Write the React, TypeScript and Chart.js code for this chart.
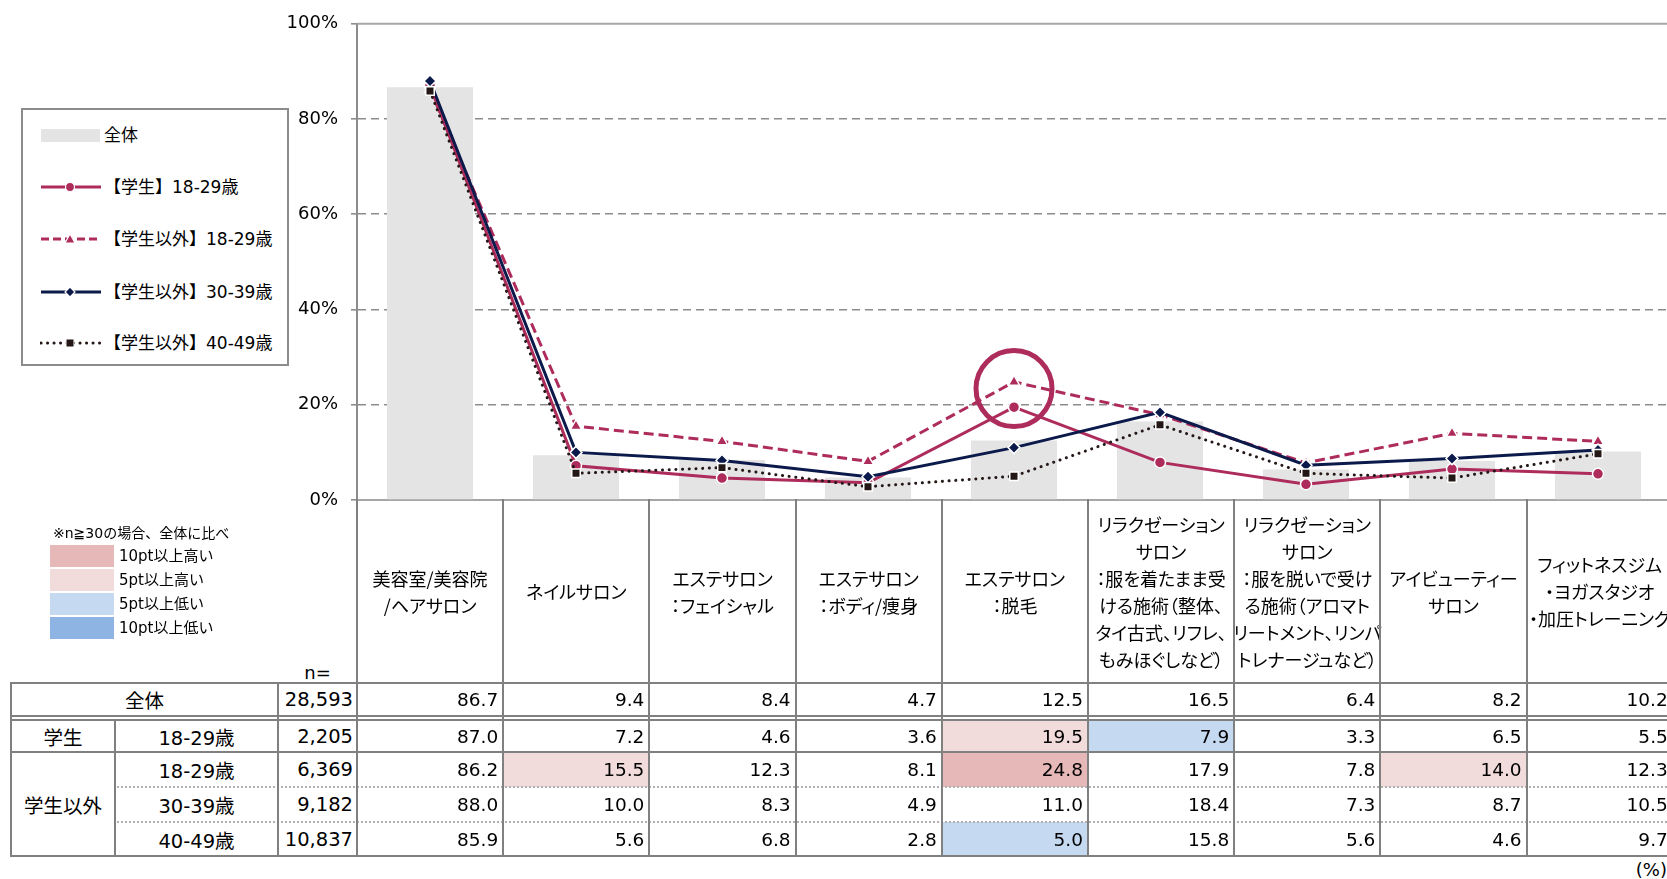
import React, { useEffect, useRef } from "react";
import { Chart, registerables } from "chart.js";

Chart.register(...registerables);

// ---------------- data ----------------
const categories: string[][] = [
  ["美容室/美容院", "/ヘアサロン"],
  ["ネイルサロン"],
  ["エステサロン", "：フェイシャル"],
  ["エステサロン", "：ボディ/痩身"],
  ["エステサロン", "：脱毛"],
  ["リラクゼーション", "サロン", "：服を着たまま受", "ける施術（整体、", "タイ古式、リフレ、", "もみほぐしなど）"],
  ["リラクゼーション", "サロン", "：服を脱いで受け", "る施術（アロマト", "リートメント、リンパ", "トレナージュなど）"],
  ["アイビューティー", "サロン"],
  ["フィットネスジム", "・ヨガスタジオ", "・加圧トレーニング"],
];
const seriesLabels = ["全体", "【学生】18-29歳", "【学生以外】18-29歳", "【学生以外】30-39歳", "【学生以外】40-49歳"];
const totalValues = [86.7, 9.4, 8.4, 4.7, 12.5, 16.5, 6.4, 8.2, 10.2];
const student1829 = [87.0, 7.2, 4.6, 3.6, 19.5, 7.9, 3.3, 6.5, 5.5];
const nonStudent1829 = [86.2, 15.5, 12.3, 8.1, 24.8, 17.9, 7.8, 14.0, 12.3];
const nonStudent3039 = [88.0, 10.0, 8.3, 4.9, 11.0, 18.4, 7.3, 8.7, 10.5];
const nonStudent4049 = [85.9, 5.6, 6.8, 2.8, 5.0, 15.8, 5.6, 4.6, 9.7];
const sampleSizes = ["28,593", "2,205", "6,369", "9,182", "10,837"];
const yTickStep = 20;
const yMax = 100;
const rowGroupLabels = ["全体", "学生", "学生以外"];
const rowAgeLabels = ["18-29歳", "18-29歳", "30-39歳", "40-49歳"];
const noteText = "※n≧30の場合、全体に比べ";
const highlightLegendLabels = ["10pt以上高い", "5pt以上高い", "5pt以上低い", "10pt以上低い"];
const circledCategoryIndex = 4;
const circledValue = 23.4;

// ---------------- styles / layout ----------------
const CRIMSON = "#AE2C5B";
const NAVY = "#0B1A4A";
const DARK = "#231815";
const BAR_GRAY = "#e4e4e4";
const HL_COLORS = ["#e6b8b7", "#f2dcdb", "#c5d9f1", "#8db4e2"];
const LINE_GRAY = "#808080";

const PLOT_LEFT = 357;
const PLOT_TOP = 20;
const PLOT_BOTTOM = 500;
const COL_W = 146.2;
const PLOT_RIGHT = PLOT_LEFT + COL_W * categories.length;
const CANVAS_W = Math.ceil(PLOT_RIGHT) + 6;
const CANVAS_H = 524;

const FONT = '"DejaVu Sans", "Noto Sans CJK JP", sans-serif';
const FONT_JP = '"Noto Sans CJK JP", sans-serif';

const HEADER_BOTTOM = 683;
const ROWS = [
  { top: 683, bottom: 716 },
  { top: 720, bottom: 752 },
  { top: 752, bottom: 787 },
  { top: 787, bottom: 822 },
  { top: 822, bottom: 856 },
];
const X_LEFT = 11;
const X_GROUP = 115;
const X_N = 278;

function hlLevel(v: number, base: number): number {
  const d = v - base;
  if (d >= 10) return 0;
  if (d >= 5) return 1;
  if (d <= -10) return 3;
  if (d <= -5) return 2;
  return -1;
}

function ChartCanvas() {
  const ref = useRef<HTMLCanvasElement>(null);
  useEffect(() => {
    const canvas = ref.current;
    if (!canvas) return;
    const frameLines = {
      id: "frameLines",
      beforeDatasetsDraw(chart: any) {
        const { ctx, chartArea, scales } = chart;
        const yTop = scales.y.getPixelForValue(yMax);
        const yBase = scales.y.getPixelForValue(0);
        ctx.save();
        ctx.strokeStyle = "#a6a6a6";
        ctx.lineWidth = 2;
        ctx.beginPath();
        ctx.moveTo(chartArea.left, yTop);
        ctx.lineTo(chartArea.right, yTop);
        ctx.moveTo(chartArea.left, yBase);
        ctx.lineTo(chartArea.right, yBase);
        ctx.stroke();
        ctx.restore();
      },
    };
    const circle = {
      id: "circleMark",
      afterDatasetsDraw(chart: any) {
        const { ctx, scales } = chart;
        const x = scales.x.getPixelForValue(circledCategoryIndex);
        const y = scales.y.getPixelForValue(circledValue);
        ctx.save();
        ctx.strokeStyle = CRIMSON;
        ctx.lineWidth = 5;
        ctx.beginPath();
        ctx.arc(x, y, 38, 0, Math.PI * 2);
        ctx.stroke();
        ctx.restore();
      },
    };
    const lineCommon = {
      type: "line" as const,
      borderWidth: 3,
      pointBorderColor: "#ffffff",
      pointBorderWidth: 1.5,
      fill: false,
      tension: 0,
    };
    const chart = new Chart(canvas, {
      data: {
        labels: categories.map((c) => c.join("")),
        datasets: [
          {
            type: "bar",
            label: seriesLabels[0],
            data: totalValues,
            backgroundColor: BAR_GRAY,
            barPercentage: 0.59,
            categoryPercentage: 1,
            order: 10,
          },
          {
            ...lineCommon,
            label: seriesLabels[1],
            data: student1829,
            borderColor: CRIMSON,
            pointBackgroundColor: CRIMSON,
            pointStyle: "circle",
            pointRadius: 5.5,
            order: 4,
          },
          {
            ...lineCommon,
            label: seriesLabels[2],
            data: nonStudent1829,
            borderColor: CRIMSON,
            borderDash: [10, 5],
            pointBackgroundColor: CRIMSON,
            pointStyle: "triangle",
            pointRadius: 6.5,
            order: 3,
          },
          {
            ...lineCommon,
            label: seriesLabels[3],
            data: nonStudent3039,
            borderColor: NAVY,
            pointBackgroundColor: NAVY,
            pointStyle: "rectRot",
            pointRadius: 6,
            order: 2,
          },
          {
            ...lineCommon,
            label: seriesLabels[4],
            data: nonStudent4049,
            borderColor: DARK,
            borderDash: [0.1, 6.6],
            borderCapStyle: "round",
            pointBackgroundColor: DARK,
            pointStyle: "rect",
            pointRadius: 6,
            order: 1,
          },
        ] as any,
      },
      options: {
        responsive: false,
        animation: false,
        layout: {
          padding: { left: 0, top: PLOT_TOP, right: CANVAS_W - PLOT_RIGHT, bottom: CANVAS_H - PLOT_BOTTOM },
        },
        plugins: { legend: { display: false }, tooltip: { enabled: false } },
        scales: {
          x: {
            display: false,
            offset: true,
            grid: { display: false },
          },
          y: {
            min: 0,
            max: yMax,
            ticks: {
              stepSize: yTickStep,
              callback: (v: any) => v + "%",
              color: "#000",
              padding: 13,
              font: { family: FONT, size: 18 },
            },
            grid: {
              color: (ctx: any) =>
                ctx.tick && (ctx.tick.value === 0 || ctx.tick.value === yMax) ? "rgba(0,0,0,0)" : "#8c8c8c",
              lineWidth: 1.6,
              tickColor: "#8c8c8c",
              tickLength: 6,
              tickWidth: 1.6,
            },
            border: { display: true, color: "#8c8c8c", width: 2, dash: [8, 5] },
            afterFit: (s: any) => {
              s.width = PLOT_LEFT;
            },
          },
        },
      } as any,
      plugins: [frameLines, circle],
    });
    return () => chart.destroy();
  }, []);
  return (
    <canvas
      ref={ref}
      width={CANVAS_W}
      height={CANVAS_H}
      style={{ position: "absolute", left: 0, top: 0, width: CANVAS_W, height: CANVAS_H }}
    />
  );
}

function LegendSample({ kind }: { kind: number }) {
  const cy = 8;
  const stroke = kind === 3 ? NAVY : kind === 4 ? DARK : CRIMSON;
  const dash = kind === 2 ? "8 4" : kind === 4 ? "0.1 6.4" : undefined;
  let marker: React.ReactNode = null;
  if (kind === 1) marker = <circle cx={30} cy={cy} r={4.5} fill={CRIMSON} stroke="#fff" strokeWidth={1.2} />;
  if (kind === 2)
    marker = <polygon points={`30,${cy - 5} 35,${cy + 4} 25,${cy + 4}`} fill={CRIMSON} stroke="#fff" strokeWidth={1.2} />;
  if (kind === 3)
    marker = <polygon points={`30,${cy - 5} 35,${cy} 30,${cy + 5} 25,${cy}`} fill={NAVY} stroke="#fff" strokeWidth={1.2} />;
  if (kind === 4) marker = <rect x={26} y={cy - 4} width={8} height={8} fill={DARK} stroke="#fff" strokeWidth={1} />;
  return (
    <svg width={62} height={16} style={{ position: "absolute", left: 40, top: -8 }}>
      <line
        x1={1}
        y1={cy}
        x2={61}
        y2={cy}
        stroke={stroke}
        strokeWidth={3}
        strokeDasharray={dash}
        strokeLinecap={kind === 4 ? "round" : "butt"}
      />
      {marker}
    </svg>
  );
}

function Legend() {
  const ys = [135, 187, 239, 292, 343];
  return (
    <>
      <div
        style={{
          position: "absolute",
          left: 21,
          top: 108,
          width: 268,
          height: 258,
          border: "2px solid #8c8c8c",
          boxSizing: "border-box",
          background: "#fff",
        }}
      />
      {seriesLabels.map((lab, i) => (
        <div key={lab} style={{ position: "absolute", left: 0, top: ys[i], width: 0, height: 0 }}>
          {i === 0 ? (
            <div style={{ position: "absolute", left: 41, top: -6.5, width: 59, height: 13, background: BAR_GRAY }} />
          ) : (
            <LegendSample kind={i} />
          )}
          <div
            style={{
              position: "absolute",
              left: 104,
              top: -13,
              height: 26,
              lineHeight: "26px",
              whiteSpace: "nowrap",
              fontFamily: FONT,
              fontSize: 17,
              color: "#000",
            }}
          >
            {lab}
          </div>
        </div>
      ))}
    </>
  );
}

function ColorLegend() {
  const tops = [545, 569, 593, 617];
  return (
    <>
      <div
        style={{
          position: "absolute",
          left: 53,
          top: 522,
          height: 22,
          lineHeight: "22px",
          fontFamily: FONT,
          fontSize: 14,
          whiteSpace: "nowrap",
          color: "#000",
        }}
      >
        {noteText}
      </div>
      {highlightLegendLabels.map((lab, i) => (
        <React.Fragment key={lab}>
          <div style={{ position: "absolute", left: 50, top: tops[i], width: 64, height: 22, background: HL_COLORS[i] }} />
          <div
            style={{
              position: "absolute",
              left: 119,
              top: tops[i],
              height: 22,
              lineHeight: "22px",
              fontFamily: FONT,
              fontSize: 15,
              whiteSpace: "nowrap",
              color: "#000",
            }}
          >
            {lab}
          </div>
        </React.Fragment>
      ))}
    </>
  );
}

function HLine({ y, x1, x2, dotted }: { y: number; x1: number; x2: number; dotted?: boolean }) {
  return (
    <div
      style={{
        position: "absolute",
        left: x1 - 1,
        top: y - 1,
        width: x2 - x1 + 2,
        height: 0,
        borderTop: dotted ? "2px dotted #b0b0b0" : `2px solid ${LINE_GRAY}`,
      }}
    />
  );
}
function VLine({ x, y1, y2 }: { x: number; y1: number; y2: number }) {
  return <div style={{ position: "absolute", left: x - 1, top: y1 - 1, width: 2, height: y2 - y1 + 2, background: LINE_GRAY }} />;
}

function CellText({
  left,
  width,
  top,
  bottom,
  text,
  align,
  size,
  family,
  pad,
}: {
  left: number;
  width: number;
  top: number;
  bottom: number;
  text: string;
  align: "center" | "right";
  size: number;
  family: string;
  pad?: number;
}) {
  return (
    <div
      style={{
        position: "absolute",
        left,
        top,
        width,
        height: bottom - top,
        display: "flex",
        alignItems: "center",
        justifyContent: align === "center" ? "center" : "flex-end",
        paddingRight: align === "right" ? pad ?? 5 : 0,
        boxSizing: "border-box",
        whiteSpace: "nowrap",
        fontFamily: family,
        fontSize: size,
        color: "#000",
      }}
    >
      {text}
    </div>
  );
}

function DataTable() {
  const colLeft = (i: number) => PLOT_LEFT + i * COL_W;
  const series = [totalValues, student1829, nonStudent1829, nonStudent3039, nonStudent4049];
  const right = PLOT_RIGHT + 1;
  const els: React.ReactNode[] = [];

  // highlight fills
  series.forEach((vals, r) => {
    if (r === 0) return;
    vals.forEach((v, c) => {
      const lvl = hlLevel(v, totalValues[c]);
      if (lvl < 0) return;
      els.push(
        <div
          key={`hl${r}-${c}`}
          style={{
            position: "absolute",
            left: colLeft(c),
            top: ROWS[r].top,
            width: COL_W,
            height: ROWS[r].bottom - ROWS[r].top,
            background: HL_COLORS[lvl],
          }}
        />
      );
    });
  });

  // header labels
  categories.forEach((lines, c) => {
    els.push(
      <div
        key={`hd${c}`}
        style={{
          position: "absolute",
          left: colLeft(c),
          top: PLOT_BOTTOM,
          width: COL_W,
          height: HEADER_BOTTOM - PLOT_BOTTOM,
          display: "flex",
          flexDirection: "column",
          alignItems: "center",
          justifyContent: "center",
          fontFamily: FONT_JP,
          fontSize: 18,
          lineHeight: "27px",
          fontFeatureSettings: '"palt"',
          color: "#000",
        }}
      >
        {lines.map((ln, k) => (
          <div key={k} style={{ whiteSpace: "nowrap" }}>
            {ln}
          </div>
        ))}
      </div>
    );
  });

  els.push(
    <CellText key="neq" left={X_N} width={PLOT_LEFT - X_N} top={655} bottom={689} text="n=" align="center" size={18} family={FONT} />
  );

  // row labels
  els.push(
    <CellText key="g0" left={X_LEFT} width={X_N - X_LEFT} top={ROWS[0].top} bottom={ROWS[0].bottom} text={rowGroupLabels[0]} align="center" size={19.5} family={FONT} />
  );
  els.push(
    <CellText key="g1" left={X_LEFT} width={X_GROUP - X_LEFT} top={ROWS[1].top} bottom={ROWS[1].bottom} text={rowGroupLabels[1]} align="center" size={19.5} family={FONT} />
  );
  els.push(
    <CellText key="g2" left={X_LEFT} width={X_GROUP - X_LEFT} top={ROWS[2].top} bottom={ROWS[4].bottom} text={rowGroupLabels[2]} align="center" size={19.5} family={FONT} />
  );
  rowAgeLabels.forEach((lab, i) => {
    const r = ROWS[i + 1];
    els.push(
      <CellText key={`age${i}`} left={X_GROUP} width={X_N - X_GROUP} top={r.top} bottom={r.bottom} text={lab} align="center" size={19.5} family={FONT} />
    );
  });

  // n and values
  series.forEach((vals, r) => {
    els.push(
      <CellText key={`n${r}`} left={X_N} width={PLOT_LEFT - X_N} top={ROWS[r].top} bottom={ROWS[r].bottom} text={sampleSizes[r]} align="right" size={19.5} family={FONT} pad={4} />
    );
    vals.forEach((v, c) => {
      els.push(
        <CellText key={`v${r}-${c}`} left={colLeft(c)} width={COL_W} top={ROWS[r].top} bottom={ROWS[r].bottom} text={v.toFixed(1)} align="right" size={18.5} family={FONT} pad={5} />
      );
    });
  });

  // lines
  [ROWS[0].top, ROWS[0].bottom, ROWS[1].top, ROWS[1].bottom, ROWS[4].bottom].forEach((y, i) =>
    els.push(<HLine key={`hl-${i}`} y={y} x1={X_LEFT} x2={right} />)
  );
  [ROWS[2].bottom, ROWS[3].bottom].forEach((y, i) => els.push(<HLine key={`hd-${i}`} y={y} x1={X_GROUP} x2={right} dotted />));
  els.push(<VLine key="vl0" x={X_LEFT} y1={ROWS[0].top} y2={ROWS[4].bottom} />);
  els.push(<VLine key="vl1" x={X_GROUP} y1={ROWS[1].top} y2={ROWS[4].bottom} />);
  els.push(<VLine key="vl2" x={X_N} y1={ROWS[0].top} y2={ROWS[4].bottom} />);
  for (let i = 0; i <= categories.length; i++) {
    els.push(<VLine key={`vc${i}`} x={colLeft(i)} y1={PLOT_BOTTOM} y2={ROWS[4].bottom} />);
  }

  els.push(
    <div
      key="pct"
      style={{
        position: "absolute",
        right: 0,
        top: 857,
        height: 26,
        lineHeight: "26px",
        fontFamily: FONT,
        fontSize: 18,
        color: "#000",
        whiteSpace: "nowrap",
      }}
    >
      (%)
    </div>
  );
  return <>{els}</>;
}

export default function App() {
  return (
    <div
      style={{
        position: "fixed",
        left: 0,
        top: 0,
        width: 1667,
        height: 879,
        overflow: "hidden",
        background: "#fff",
      }}
    >
      <ChartCanvas />
      <Legend />
      <ColorLegend />
      <DataTable />
    </div>
  );
}
